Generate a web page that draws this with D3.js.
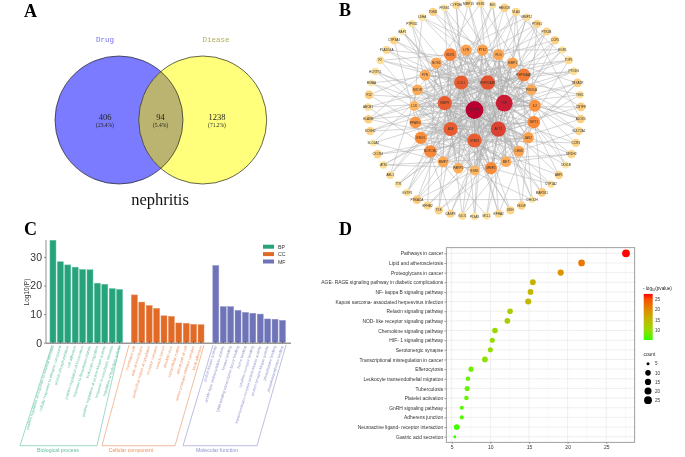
<!DOCTYPE html>
<html>
<head>
<meta charset="utf-8">
<script src="https://cdn.jsdelivr.net/npm/d3@7"></script>
<style>
  body { margin: 0; background: #fff; }
  svg { display: block; filter: blur(0.5px); }
  text { font-family: "Liberation Sans", Arial, sans-serif; }
</style>
</head>
<body>
<script>
// panel A
var vennSets = ["Drug", "Diease"];
var vennTexts = ["406", "94", "1238"];
var vennPcts = ["(23.4%)", "(5.4%)", "(71.2%)"];

// panel B: rings from the centre outwards, each name has a degree
var ringCentre = ["EGFR"];
var ringCentreDeg = [68];
var ringInner = ["COL1", "HSP90AB1", "TNF", "AKT1", "STAT3", "ALB", "MMP9"];
var ringInnerDeg = [47, 49, 62, 53, 47, 47, 47];
var ringMiddle = ["KDR1", "LYN", "PTK2", "PLG", "MMP1", "HSP90AA1", "PIK3CA", "IL2", "SIRT1", "JAK2", "CHUK", "MET", "MMP2", "ESR1", "PARP1", "MMP7", "NOTCH1", "ENO1", "PPARG", "LCK", "MTOR", "FYN", "NOS3"];
var ringMiddleDeg = [38, 30, 30, 29, 29, 40, 27, 34, 37, 30, 29, 27, 36, 23, 26, 28, 37, 36, 33, 23, 27, 28, 29];
var ringOuter = ["BLK", "HMGCR", "VLA4", "MMP12", "PTGS1", "PTK2B", "CCR5", "EGR1", "TOP1", "PTGDS", "TBXA2R", "TEK1", "CNTFR", "ALOX5", "SULT2A1", "CCR3", "NR1H3", "CKS1B", "ABP1", "CYP1A2", "MAP2K1", "DHODH", "HDGF", "XDH", "EPHA2", "MCL1", "PDIA3", "GLO1", "CASP3", "TXK", "EPHB2", "PRKACA", "GSTP1", "TTR", "ABL1", "ATM", "CXCR4", "SLC6A4", "KCNH2", "ELANE", "ABCB1", "F12", "MMAA", "HCRTR1", "F2", "PLA2G4A", "CYP3A4", "BAP1", "PTPN11", "LDHA", "TGM2", "PRSS1", "CYP2B6", "MMP13", "ESR2"];
var ringOuterDeg = [7, 14, 11, 9, 13, 12, 13, 7, 11, 9, 15, 8, 15, 14, 12, 13, 12, 6, 13, 8, 15, 5, 13, 12, 11, 8, 7, 10, 12, 13, 12, 16, 8, 6, 10, 9, 13, 5, 12, 14, 9, 15, 5, 8, 9, 11, 12, 5, 8, 7, 13, 6, 11, 10, 9];
// source index -> target indices, counted through the rings in the order above
var networkEdges = [
  [0, [1,2,3,4,5,6,7,8,9,10,11,12,13,14,15,16,17,18,19,20,21,22,23,24,25,26,27,28,29,30,32,37,41,46,50,54,58,62,66,70,74,78,82]],
  [1, [2,3,4,5,6,7,8,10,12,14,16,18,20,22,24,26,28,30,33,39,44,49,55,60,65,71,77,83]],
  [2, [3,4,5,6,7,9,11,13,15,17,19,21,23,25,27,29,34,40,45,52,57,63,69,75,81]],
  [3, [4,5,6,7,8,9,10,11,12,13,14,15,16,17,18,19,20,21,22,23,24,25,31,35,38,42,47,53,59,64,68,72,76,80,85]],
  [4, [5,6,7,8,9,11,12,14,15,17,18,20,21,23,24,26,27,29,30,36,43,48,51,56,61,67,73,79,84]],
  [5, [6,7,10,11,13,14,16,17,19,20,22,23,25,26,28,29,33,37,46,55,62,70,78]],
  [6, [7,8,10,12,13,15,16,18,19,21,22,24,25,27,28,30,35,41,50,58,66,74,82]],
  [7, [9,10,12,13,15,17,18,20,21,23,25,26,28,30,31,39,47,54,63,71,79]],
  [8, [14,20,26,34,44,60,75]], [9, [15,22,29,38,52,68]], [10, [18,24,30,43,57,72,84]],
  [11, [19,27,36,49,65,80]], [12, [21,28,33,48,59,76,41]], [13, [20,25,40,56,70,85]],
  [14, [23,29,37,51,64,81]], [15, [22,27,32,46,61,77]], [16, [24,30,42,55,69,83]],
  [17, [26,35,53,67,74]], [18, [28,31,45,60,78]], [19, [25,39,58,73,82]],
  [20, [29,41,50,66]], [21, [27,34,62,75]], [22, [30,38,47,71]], [23, [36,44,68,79]],
  [24, [33,52,63,84]], [25, [40,56,77]], [26, [32,49,72]], [27, [43,59,80]],
  [28, [35,65,85]], [29, [37,54,76]], [30, [42,61,70]],
  [33, [52,39]], [38, [70]], [41, [60]], [44, [75]], [47, [66]], [34, [58,44]], [51, [78]],
  [55, [85]], [62, [31,52]], [40, [69]], [48, [82]], [36, [64]], [57, [83]], [73, [39]], [80, [45]]
];

// panel C
var goTerms = [
  "positive regulation of response to external stimulus", "cellular response to nitrogen compound", "protein phosphorylation", "cell adhesion", "positive regulation of locomotion", "response to lipopolysaccharide", "leukocyte migration", "positive regulation of protein kinase activity", "response to xenobiotic stimulus", "regulation of hydrolase activity",
  "membrane raft", "side of membrane", "perinuclear region of cytoplasm", "receptor complex", "vesicle lumen", "dendritic tree", "extracellular matrix", "apical part of cell", "serine protease inhibitor complex", "focal adhesion",
  "protein kinase activity", "amide-type endopeptidase activity", "kinase binding", "DNA-binding transcription factor binding", "heme binding", "cytokine receptor binding", "transmembrane receptor protein kinase activity", "protein tyrosine kinase activity", "phosphatase binding", "phosphotransferase binding"
];
var goBP = [35.8, 28.3, 27.2, 26.4, 25.6, 25.5, 20.8, 20.4, 18.9, 18.6];
var goCC = [16.7, 14.2, 13.0, 12.0, 9.4, 9.2, 6.9, 6.8, 6.4, 6.3];
var goMF = [27.0, 12.6, 12.6, 11.3, 10.6, 10.3, 10.0, 8.3, 8.2, 7.8];
var goGroups = ["BP", "CC", "MF"];
var goGroupNames = ["Biological process", "Cellular component", "Molecular function"];
var goColors = ["#27a37c", "#e06a26", "#6f74b8"];
var goLabelColors = ["#5fbf9f", "#ea9260", "#9194cc"];
var goTicks = [0, 10, 20, 30];

// panel D
var pathways = ["Pathways in cancer", "Lipid and atherosclerosis", "Proteoglycans in cancer", "AGE- RAGE signaling pathway in diabetic complications", "NF- kappa B signaling pathway", "Kaposi sarcoma- associated herpesvirus infection", "Relaxin signaling pathway", "NOD- like receptor signaling pathway", "Chemokine signaling pathway", "HIF- 1 signaling pathway", "Serotonergic synapse", "Transcriptional misregulation in cancer", "Efferocytosis", "Leukocyte transendothelial migration", "Tuberculosis", "Platelet activation", "GnRH signaling pathway", "Adherens junction", "Neuroactive ligand- receptor interaction", "Gastric acid secretion"];
var pathwayP = [27.55, 21.8, 19.1, 15.5, 15.2, 14.9, 12.55, 12.2, 10.6, 10.25, 10.0, 9.3, 7.5, 7.1, 7.0, 6.9, 6.3, 6.3, 5.65, 5.4];
var pathwayCount = [25, 18, 15, 12, 11, 14, 10, 11, 10, 9, 9, 11, 9, 8, 9, 8, 7, 7, 11, 5];
var pathwayTicks = [5, 10, 15, 20, 25];
var colorTicks = [10, 15, 20, 25];
var countTicks = [5, 10, 15, 20, 25];

var svg = d3.select("body").append("svg").attr("width", 685).attr("height", 457);

function panelLetter(t, x, y) {
  svg.append("text").attr("x", x).attr("y", y).text(t)
    .style("font-family", "'Liberation Serif', serif")
    .attr("font-weight", "bold").attr("font-size", 18).attr("fill", "#000");
}
panelLetter("A", 24, 17);
panelLetter("B", 339, 16);
panelLetter("C", 24, 235);
panelLetter("D", 339, 235);

// ---- A: venn
var vennX = d3.scalePoint().domain(vennSets).range([119, 202.7]);
var vennR = 64, vennY = 120;
var defs = svg.append("defs");
defs.append("clipPath").attr("id", "clipDrug").append("circle")
  .attr("cx", vennX("Drug")).attr("cy", vennY).attr("r", vennR);

svg.append("circle").attr("cx", vennX("Drug")).attr("cy", vennY).attr("r", vennR).attr("fill", "#7b7bff");
svg.append("circle").attr("cx", vennX("Diease")).attr("cy", vennY).attr("r", vennR).attr("fill", "#ffff7b");
svg.append("circle").attr("cx", vennX("Diease")).attr("cy", vennY).attr("r", vennR)
  .attr("fill", "#bab470").attr("clip-path", "url(#clipDrug)");
svg.selectAll(".vennRing").data(vennSets).enter().append("circle")
  .attr("cx", function(d) { return vennX(d); }).attr("cy", vennY).attr("r", vennR)
  .attr("fill", "none").attr("stroke", "#222").attr("stroke-width", 0.7);

svg.selectAll(".vennName").data(vennSets).enter().append("text")
  .attr("x", function(d, i) { return i == 0 ? 105 : 216; }).attr("y", 41.5)
  .attr("text-anchor", "middle").text(function(d) { return d; })
  .style("font-family", "'Liberation Mono', monospace").attr("font-size", 7.5)
  .attr("fill", function(d, i) { return i == 0 ? "#7070f0" : "#b0b060"; });

var vennTextX = [105, 160.5, 217];
svg.selectAll(".vennNum").data(vennTexts).enter().append("text")
  .attr("x", function(d, i) { return vennTextX[i]; }).attr("y", 119.5)
  .attr("text-anchor", "middle").text(function(d) { return d; })
  .style("font-family", "'Liberation Serif', serif").attr("font-size", 8.5).attr("fill", "#222");
svg.selectAll(".vennPct").data(vennPcts).enter().append("text")
  .attr("x", function(d, i) { return vennTextX[i]; }).attr("y", 126.5)
  .attr("text-anchor", "middle").text(function(d) { return d; })
  .style("font-family", "'Liberation Serif', serif").attr("font-size", 5.5).attr("fill", "#222");
svg.append("text").attr("x", 160).attr("y", 205).attr("text-anchor", "middle").text("nephritis")
  .style("font-family", "'Liberation Serif', serif").attr("font-size", 16.5).attr("fill", "#111");

// ---- B: network
var netX = 474.5, netY = 110;
var rings = [
  { names: ringCentre, deg: ringCentreDeg, r: 0, start: 0 },
  { names: ringInner, deg: ringInnerDeg, r: 30.5, start: -25.7 },
  { names: ringMiddle, deg: ringMiddleDeg, r: 60.5, start: -23.6 },
  { names: ringOuter, deg: ringOuterDeg, r: 106.5, start: 9.8 }
];
var nodes = [];
rings.forEach(function(ring) {
  var a = d3.scalePoint().domain(ring.names)
    .range([ring.start, ring.start + 360 - 360 / ring.names.length]);
  ring.names.forEach(function(n, i) {
    var p = d3.pointRadial(a(n) * Math.PI / 180, ring.r);
    nodes.push({ name: n, deg: ring.deg[i], x: netX + p[0], y: netY + p[1] });
  });
});
var edgeList = [];
networkEdges.forEach(function(e) {
  e[1].forEach(function(t) { edgeList.push([nodes[e[0]], nodes[t]]); });
});

var nodeR = d3.scaleLinear().domain([5, 68]).range([3.5, 8.9]);
var nodeColor = d3.scaleLinear()
  .domain([5, 14, 25, 36, 47, 60, 68])
  .range(["#fdeaa8", "#fdcf80", "#fdb25f", "#fb8c3a", "#e85c30", "#cf2432", "#b80030"]);

svg.append("g").selectAll("line").data(edgeList).enter().append("line")
  .attr("x1", function(d) { return d[0].x; }).attr("y1", function(d) { return d[0].y; })
  .attr("x2", function(d) { return d[1].x; }).attr("y2", function(d) { return d[1].y; })
  .attr("stroke", "#adadad").attr("stroke-width", 0.6).attr("stroke-opacity", 0.85);

var nodeG = svg.append("g").selectAll("g").data(nodes).enter().append("g")
  .attr("transform", function(d) { return "translate(" + d.x + "," + d.y + ")"; });
nodeG.append("circle")
  .attr("r", function(d) { return nodeR(d.deg); })
  .attr("fill", function(d) { return nodeColor(d.deg); });
nodeG.append("text").text(function(d) { return d.name; })
  .attr("text-anchor", "middle").attr("y", 1.1)
  .attr("font-size", 3.1).attr("fill", "#333");

// ---- C: GO bars
var goGap = ["", " "];
var goDomain = goTerms.slice(0, 10).concat([goGap[0]], goTerms.slice(10, 20), [goGap[1]], goTerms.slice(20));
var goValues = goBP.concat(goCC, goMF);
var goData = goTerms.map(function(t, i) {
  return { term: t, value: goValues[i], group: Math.floor(i / 10) };
});
var barX = d3.scaleBand().domain(goDomain).range([49.3, 49.3 + 7.4 * 32]).paddingInner(0.19).paddingOuter(0.09);
var barY = d3.scaleLinear().domain([0, 30]).range([342.7, 256.9]);

svg.append("g").selectAll("rect").data(goData).enter().append("rect")
  .attr("x", function(d) { return barX(d.term); })
  .attr("y", function(d) { return barY(d.value); })
  .attr("width", barX.bandwidth())
  .attr("height", function(d) { return barY(0) - barY(d.value); })
  .attr("fill", function(d) { return goColors[d.group]; })
  .attr("stroke", function(d) { return goLabelColors[d.group]; }).attr("stroke-width", 0.5);

var barAxis = svg.append("g").attr("transform", "translate(46,0)")
  .call(d3.axisLeft(barY).tickValues(goTicks).tickSize(2).tickPadding(2));
barAxis.select(".domain").attr("stroke", "#444").attr("stroke-width", 0.6).attr("d", "M0,240V343");
barAxis.selectAll("line").attr("stroke", "#444").attr("stroke-width", 0.6);
barAxis.selectAll("text").attr("font-size", 10.5).attr("fill", "#333")
  .style("font-family", "'Liberation Sans', sans-serif");

svg.append("line").attr("x1", 46).attr("x2", 291).attr("y1", 343.2).attr("y2", 343.2)
  .attr("stroke", "#999").attr("stroke-width", 1.4);
svg.append("g").selectAll("line").data(goData).enter().append("line")
  .attr("x1", function(d) { return barX(d.term) + barX.bandwidth() / 2; })
  .attr("x2", function(d) { return barX(d.term) + barX.bandwidth() / 2; })
  .attr("y1", 341.6).attr("y2", 343).attr("stroke", "#222").attr("stroke-width", 0.6);

svg.append("text").attr("transform", "translate(29,292) rotate(-90)")
  .attr("text-anchor", "middle").text("Log10(P)").attr("font-size", 6.5).attr("fill", "#333");

svg.append("g").selectAll("text").data(goData).enter().append("text")
  .attr("transform", function(d) {
    return "translate(" + (barX(d.term) + barX.bandwidth() / 2 + 1) + ",346.5) rotate(-73)";
  })
  .attr("text-anchor", "end").text(function(d) { return d.term; })
  .attr("font-size", 3.9).attr("fill", function(d) { return goLabelColors[d.group]; });

// brackets under the labels
var bracketLine = d3.line();
var bracketShapes = [
  [[52, 345], [20, 445.7], [97, 445.7], [120, 345]],
  [[129, 345], [102, 445.7], [175, 445.7], [204, 345]],
  [[213, 345], [183, 445.7], [257, 445.7], [286, 345]]
];
var bracketTitleX = [58, 131, 217];
goGroups.forEach(function(g, i) {
  svg.append("path").attr("d", bracketLine(bracketShapes[i])).attr("fill", "none")
    .attr("stroke", goLabelColors[i]).attr("stroke-width", 0.6);
  svg.append("text").attr("x", bracketTitleX[i]).attr("y", 452.3).attr("text-anchor", "middle")
    .text(goGroupNames[i]).attr("font-size", 5.2).attr("fill", goLabelColors[i]);
  svg.append("rect").attr("x", 263).attr("y", 244.7 + i * 7.4).attr("width", 11).attr("height", 4)
    .attr("fill", goColors[i]);
  svg.append("text").attr("x", 278).attr("y", 248.7 + i * 7.4).text(g)
    .attr("font-size", 5.2).attr("fill", "#333");
});

// ---- D: bubble chart
var dotX = d3.scaleLinear().domain([5, 25]).range([451.7, 606.3]);
var plotL = 446.3, plotR = 634.7, plotT = 247.7, plotB = 442.3;
var dotY = d3.scalePoint().domain(pathways).range([253.3, 436.7]);
var dotColor = d3.scaleLinear().domain([5.3, 27.6]).range(["#33ff00", "#ff0000"]).interpolate(d3.interpolateLab);
var dotSize = d3.scaleLinear().domain(countTicks).range([1.5, 2.8, 3.1, 3.5, 3.9]);

var grid = svg.append("g");
grid.selectAll(".minor").data(pathwayTicks).enter().append("line")
  .attr("x1", function(d) { return dotX(d + 2.5); }).attr("x2", function(d) { return dotX(d + 2.5); })
  .attr("y1", plotT).attr("y2", plotB).attr("stroke", "#f3f3f3").attr("stroke-width", 0.5);
grid.selectAll(".major").data(pathwayTicks).enter().append("line")
  .attr("x1", function(d) { return dotX(d); }).attr("x2", function(d) { return dotX(d); })
  .attr("y1", plotT).attr("y2", plotB).attr("stroke", "#ebebeb").attr("stroke-width", 0.8);
grid.selectAll(".row").data(pathways).enter().append("line")
  .attr("x1", plotL).attr("x2", plotR)
  .attr("y1", function(d) { return dotY(d); }).attr("y2", function(d) { return dotY(d); })
  .attr("stroke", "#ebebeb").attr("stroke-width", 0.8);

svg.append("g").selectAll("circle").data(pathways).enter().append("circle")
  .attr("cx", function(d, i) { return dotX(pathwayP[i]); })
  .attr("cy", function(d) { return dotY(d); })
  .attr("r", function(d, i) { return dotSize(pathwayCount[i]); })
  .attr("fill", function(d, i) { return dotColor(pathwayP[i]); });

svg.append("rect").attr("x", plotL).attr("y", plotT).attr("width", plotR - plotL).attr("height", plotB - plotT)
  .attr("fill", "none").attr("stroke", "#888").attr("stroke-width", 0.8);

var dotAxisY = svg.append("g").attr("transform", "translate(" + plotL + ",0)")
  .call(d3.axisLeft(dotY).tickSize(2).tickPadding(1.2));
dotAxisY.select(".domain").remove();
dotAxisY.selectAll("line").attr("stroke", "#444").attr("stroke-width", 0.5);
dotAxisY.selectAll("text").attr("font-size", 4.9).attr("fill", "#333")
  .style("font-family", "'Liberation Sans', sans-serif");

var dotAxisX = svg.append("g").attr("transform", "translate(0," + plotB + ")")
  .call(d3.axisBottom(dotX).tickValues(pathwayTicks).tickSize(1.5).tickPadding(1.5));
dotAxisX.select(".domain").remove();
dotAxisX.selectAll("line").attr("stroke", "#444").attr("stroke-width", 0.5);
dotAxisX.selectAll("text").attr("font-size", 5).attr("fill", "#333")
  .style("font-family", "'Liberation Sans', sans-serif");

// colour legend
var legY = d3.scaleLinear().domain([25, 10]).range([299.3, 330.3]);
var grad = defs.append("linearGradient").attr("id", "pvalGrad").attr("x1", 0).attr("x2", 0).attr("y1", 1).attr("y2", 0);
[5.3, 10, 15, 20, 25, 27.6].forEach(function(v) {
  grad.append("stop").attr("offset", (v - 5.3) / 22.3).attr("stop-color", dotColor(v));
});
svg.append("rect").attr("x", 643.7).attr("y", legY(27.6)).attr("width", 9).attr("height", legY(5.3) - legY(27.6))
  .attr("fill", "url(#pvalGrad)");
svg.selectAll(".colorTick").data(colorTicks).enter().append("text")
  .attr("x", 655).attr("y", function(d) { return legY(d) + 1.7; }).text(function(d) { return d; })
  .attr("font-size", 4.6).attr("fill", "#333");
var legTitle = svg.append("text").attr("x", 643).attr("y", 289.8).attr("font-size", 4.6).attr("fill", "#222");
legTitle.append("tspan").text("- log");
legTitle.append("tspan").text("10").attr("font-size", 3).attr("dy", 1);
legTitle.append("tspan").text("(pvalue)").attr("dy", -1);

// count legend
var countY = d3.scalePoint().domain(countTicks).range([363.7, 400.2]);
svg.append("text").attr("x", 643.5).attr("y", 356).text("count").attr("font-size", 4.8).attr("fill", "#222");
svg.selectAll(".countDot").data(countTicks).enter().append("circle")
  .attr("cx", 648).attr("cy", function(d) { return countY(d); })
  .attr("r", function(d) { return dotSize(d); }).attr("fill", "#000");
svg.selectAll(".countText").data(countTicks).enter().append("text")
  .attr("x", 655).attr("y", function(d) { return countY(d) + 1.7; }).text(function(d) { return d; })
  .attr("font-size", 4.6).attr("fill", "#333");
</script>
</body>
</html>
